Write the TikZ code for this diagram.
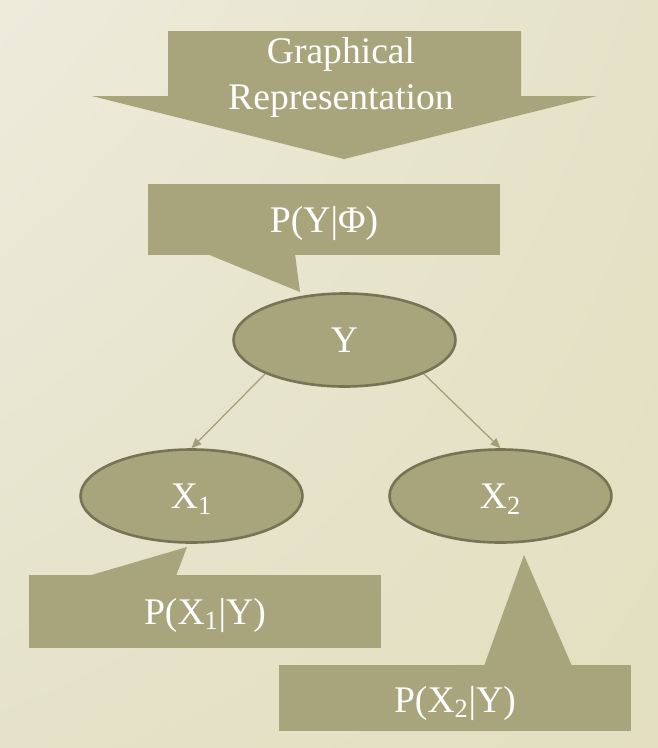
\documentclass[tikz,border=0pt]{standalone}
\usepackage{fontspec}
\setmainfont{Liberation Serif}
\usetikzlibrary{shapes.geometric,arrows.meta,shadings}
\definecolor{bgtl}{HTML}{EDECDC}
\definecolor{bgtr}{HTML}{E5E2C8}
\definecolor{bgbl}{HTML}{E5E2C9}
\definecolor{bgbr}{HTML}{E3DFC0}
\definecolor{olive}{HTML}{A8A57D}
\definecolor{oliveline}{HTML}{777456}
\definecolor{conncol}{HTML}{A19E78}
\tikzset{
  lbl/.style={text=white, inner sep=0pt},
  var/.style={ellipse, fill=olive, draw=oliveline, line width=1.5pt, minimum width=4.44cm, minimum height=1.86cm, inner sep=0pt, text=white, text height=14.7pt, text depth=0pt},
  conn/.style={->, draw=conncol, line width=0.7pt}
}
\begin{document}
\begin{tikzpicture}[x=0.02cm, y=-0.02cm, font=\fontsize{21.4}{26}\selectfont, line join=round, >={Triangle[length=5.7pt,width=4.8pt]}]
  \shade[upper left=bgtl, upper right=bgtr, lower left=bgbl, lower right=bgbr] (0,0) rectangle (658,748);
  \useasboundingbox (0,0) rectangle (658,748);
  \fill[olive] (168,31) -- (521,31) -- (521,96) -- (597,96) -- (344,159) -- (92,96) -- (168,96) -- cycle;
  \node[lbl, anchor=base] (graph) at (341,63) {Graphical};
  \node[lbl, anchor=base] (repr) at (341,109) {Representation};
  \fill[olive] (148,184) rectangle (500,255);
  \fill[olive] (207,254) -- (300,292) -- (295,254) -- cycle;
  \node[lbl, anchor=base] (pY) at (324,232) {P(Y|Φ)};
  \node[var] (Y) at (344.5,340) {Y};
  \node[var] (X1) at (191.5,496) {X\textsubscript{1}};
  \node[var] (X2) at (500.5,496) {X\textsubscript{2}};
  \draw[conn] (Y.south west) -- (X1.north);
  \draw[conn] (Y.south east) -- (X2.north);
  \fill[olive] (29,575) rectangle (381,648);
  \fill[olive] (88,576) -- (187,547) -- (176,576) -- cycle;
  \node[lbl, anchor=base] (pX1) at (205,624) {P(X\textsubscript{1}|Y)};
  \fill[olive] (279,665) rectangle (631,731);
  \fill[olive] (484,666) -- (524,555) -- (572,666) -- cycle;
  \node[lbl, anchor=base] (pX2) at (455,712) {P(X\textsubscript{2}|Y)};
\end{tikzpicture}
\end{document}
